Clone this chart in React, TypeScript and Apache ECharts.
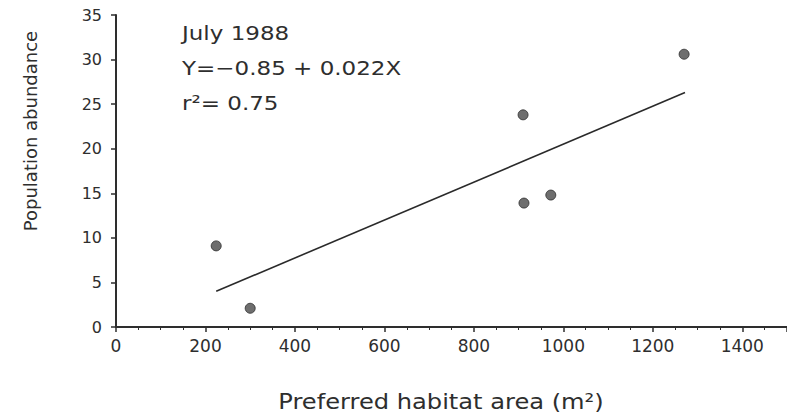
import React, { useEffect, useRef } from "react";
import * as echarts from "echarts";

// Observations (preferred habitat area in m², population abundance)
const habitatArea = [224, 300, 910, 912, 972, 1270];
const abundance = [9.1, 2.1, 23.8, 13.9, 14.8, 30.6];

// Fitted regression line endpoints as drawn
const fitX = [224, 1272];
const fitY = [4.0, 26.3];

// Text
const annotationLines = ["July 1988", "Y=\u22120.85 + 0.022X", "r\u00B2= 0.75"];
const xAxisTitle = "Preferred habitat area (m\u00B2)";
const yAxisTitle = "Population abundance";

const FONT = "'DejaVu Sans', sans-serif";
const INK = "#2e2e2e";

export default function App() {
  const ref = useRef<HTMLDivElement>(null);

  useEffect(() => {
    if (!ref.current) return;
    const chart = echarts.init(ref.current, undefined, { renderer: "svg" });
    const points = habitatArea.map((x, i) => [x, abundance[i]]);
    const fit = fitX.map((x, i) => [x, fitY[i]]);

    chart.setOption({
      animation: false,
      backgroundColor: "#ffffff",
      grid: { left: 116, right: 0, top: 15, bottom: 93, containLabel: false },
      xAxis: {
        type: "value",
        min: 0,
        max: 1500,
        interval: 200,
        splitLine: { show: false },
        axisLine: { show: true, lineStyle: { color: INK, width: 2 } },
        axisTick: { show: true, length: 5, lineStyle: { color: INK, width: 1.5 } },
        minorTick: { show: true, splitNumber: 4, length: 3, lineStyle: { color: INK, width: 1 } },
        axisLabel: {
          showMaxLabel: false,
          margin: 10,
          color: INK,
          fontFamily: FONT,
          fontSize: 17,
          formatter: (v: number) => String(v),
        },
      },
      yAxis: {
        type: "value",
        min: 0,
        max: 35,
        interval: 5,
        splitLine: { show: false },
        axisLine: { show: true, lineStyle: { color: INK, width: 2 } },
        axisTick: { show: true, length: 5, lineStyle: { color: INK, width: 1.5 } },
        axisLabel: {
          margin: 14,
          color: INK,
          fontFamily: FONT,
          fontSize: 16,
          formatter: (v: number) => String(v),
        },
      },
      graphic: [
        ...annotationLines.map((t, i) => ({
          type: "text",
          x: 182,
          y: 23 + i * 35,
          scaleX: 1.15,
          style: {
            text: t,
            fill: INK,
            font: `20px ${FONT}`,
            align: "left",
            verticalAlign: "top",
          },
        })),
        {
          type: "text",
          x: 441,
          y: 402,
          scaleX: 1.15,
          style: {
            text: xAxisTitle,
            fill: INK,
            font: `21px ${FONT}`,
            align: "center",
            verticalAlign: "middle",
          },
        },
        {
          type: "text",
          x: 30,
          y: 131,
          rotation: Math.PI / 2,
          style: {
            text: yAxisTitle,
            fill: INK,
            font: `18px ${FONT}`,
            align: "center",
            verticalAlign: "middle",
          },
        },
      ],
      series: [
        {
          type: "line",
          data: fit,
          symbol: "none",
          lineStyle: { color: "#2a2a2a", width: 1.6 },
          z: 2,
        },
        {
          type: "scatter",
          data: points,
          symbol: "circle",
          symbolSize: 10,
          itemStyle: { color: "#4a4a4a", borderColor: "#2a2a2a", borderWidth: 1 },
          z: 3,
        },
      ],
    });
    return () => chart.dispose();
  }, []);

  return (
    <div
      ref={ref}
      style={{ position: "fixed", left: 0, top: 0, width: 787, height: 420, background: "#fff" }}
    />
  );
}
